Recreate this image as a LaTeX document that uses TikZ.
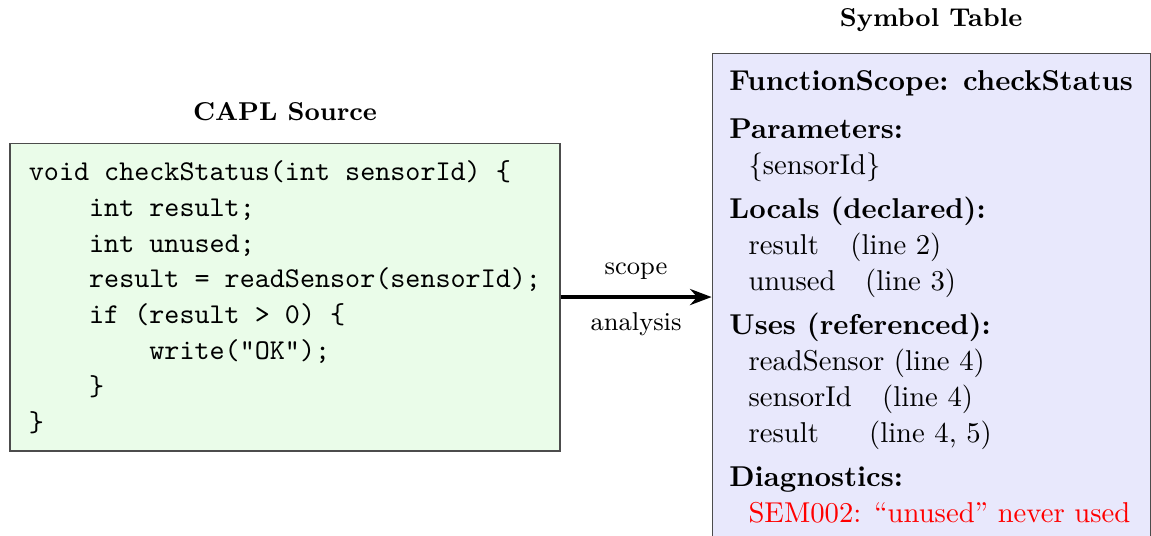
\documentclass[tikz,border=0pt]{standalone}
\usetikzlibrary{positioning,arrows.meta}
\definecolor{srcfill}{RGB}{234,252,233}
\definecolor{symfill}{RGB}{232,232,252}
\newcommand\codeind{\hspace*{21pt}}
\newcommand\symind{\hspace*{6.67pt}}
\tikzset{
  panel/.style={draw=black!70, inner xsep=6pt, inner ysep=6pt, align=left,
    font=\fontsize{10}{12.5}\selectfont},
  codebox/.style={panel, fill=srcfill, minimum width=191.7pt,
    font=\ttfamily\fontsize{10}{12.5}\selectfont},
  symbox/.style={panel, fill=symfill},
  header/.style={font=\small\bfseries},
  flow/.style={-{Stealth[length=7.5pt,width=5.6pt]}, line width=1.25pt},
  flowlabel/.style={font=\small}
}
\begin{document}
\begin{tikzpicture}
        \useasboundingbox (0,0) rectangle (14.099,6.5535) ;
        % source code
        \node[codebox] (src) at (3.491,2.915) {%
          void checkStatus(int sensorId) \{\\
          \codeind int result;\\
          \codeind int unused;\\
          \codeind result = readSensor(sensorId);\\
          \codeind if (result > 0) \{\\
          \codeind\codeind write("OK");\\
          \codeind \}\\
          \}} ;
        % symbol table
        \node[symbox, right=1.85cm of src] (table) {%
          \textbf{FunctionScope: checkStatus}\\[4pt]
          \textbf{Parameters:}\\
          \symind\{sensorId\}\\[3pt]
          \textbf{Locals (declared):}\\
          \symind result\hspace{11pt}(line 2)\\
          \symind unused\hspace{10.3pt}(line 3)\\[3pt]
          \textbf{Uses (referenced):}\\
          \symind readSensor (line 4)\\
          \symind sensorId\hspace{10.6pt}(line 4)\\
          \symind result\hspace{17.5pt}(line 4, 5)\\[3pt]
          \textbf{Diagnostics:}\\
          \symind\textcolor{red}{SEM002: “unused” never used}} ;
        \node[header, above=4pt of src] (srctitle) {CAPL Source} ;
        \node[header, above=4pt of table] (symtitle) {Symbol Table} ;
        \draw[flow] (src) -- (table)
          node[midway, above=2pt, flowlabel] {scope}
          node[midway, below=1.5pt, flowlabel] {analysis} ;
      \end{tikzpicture}
\end{document}
